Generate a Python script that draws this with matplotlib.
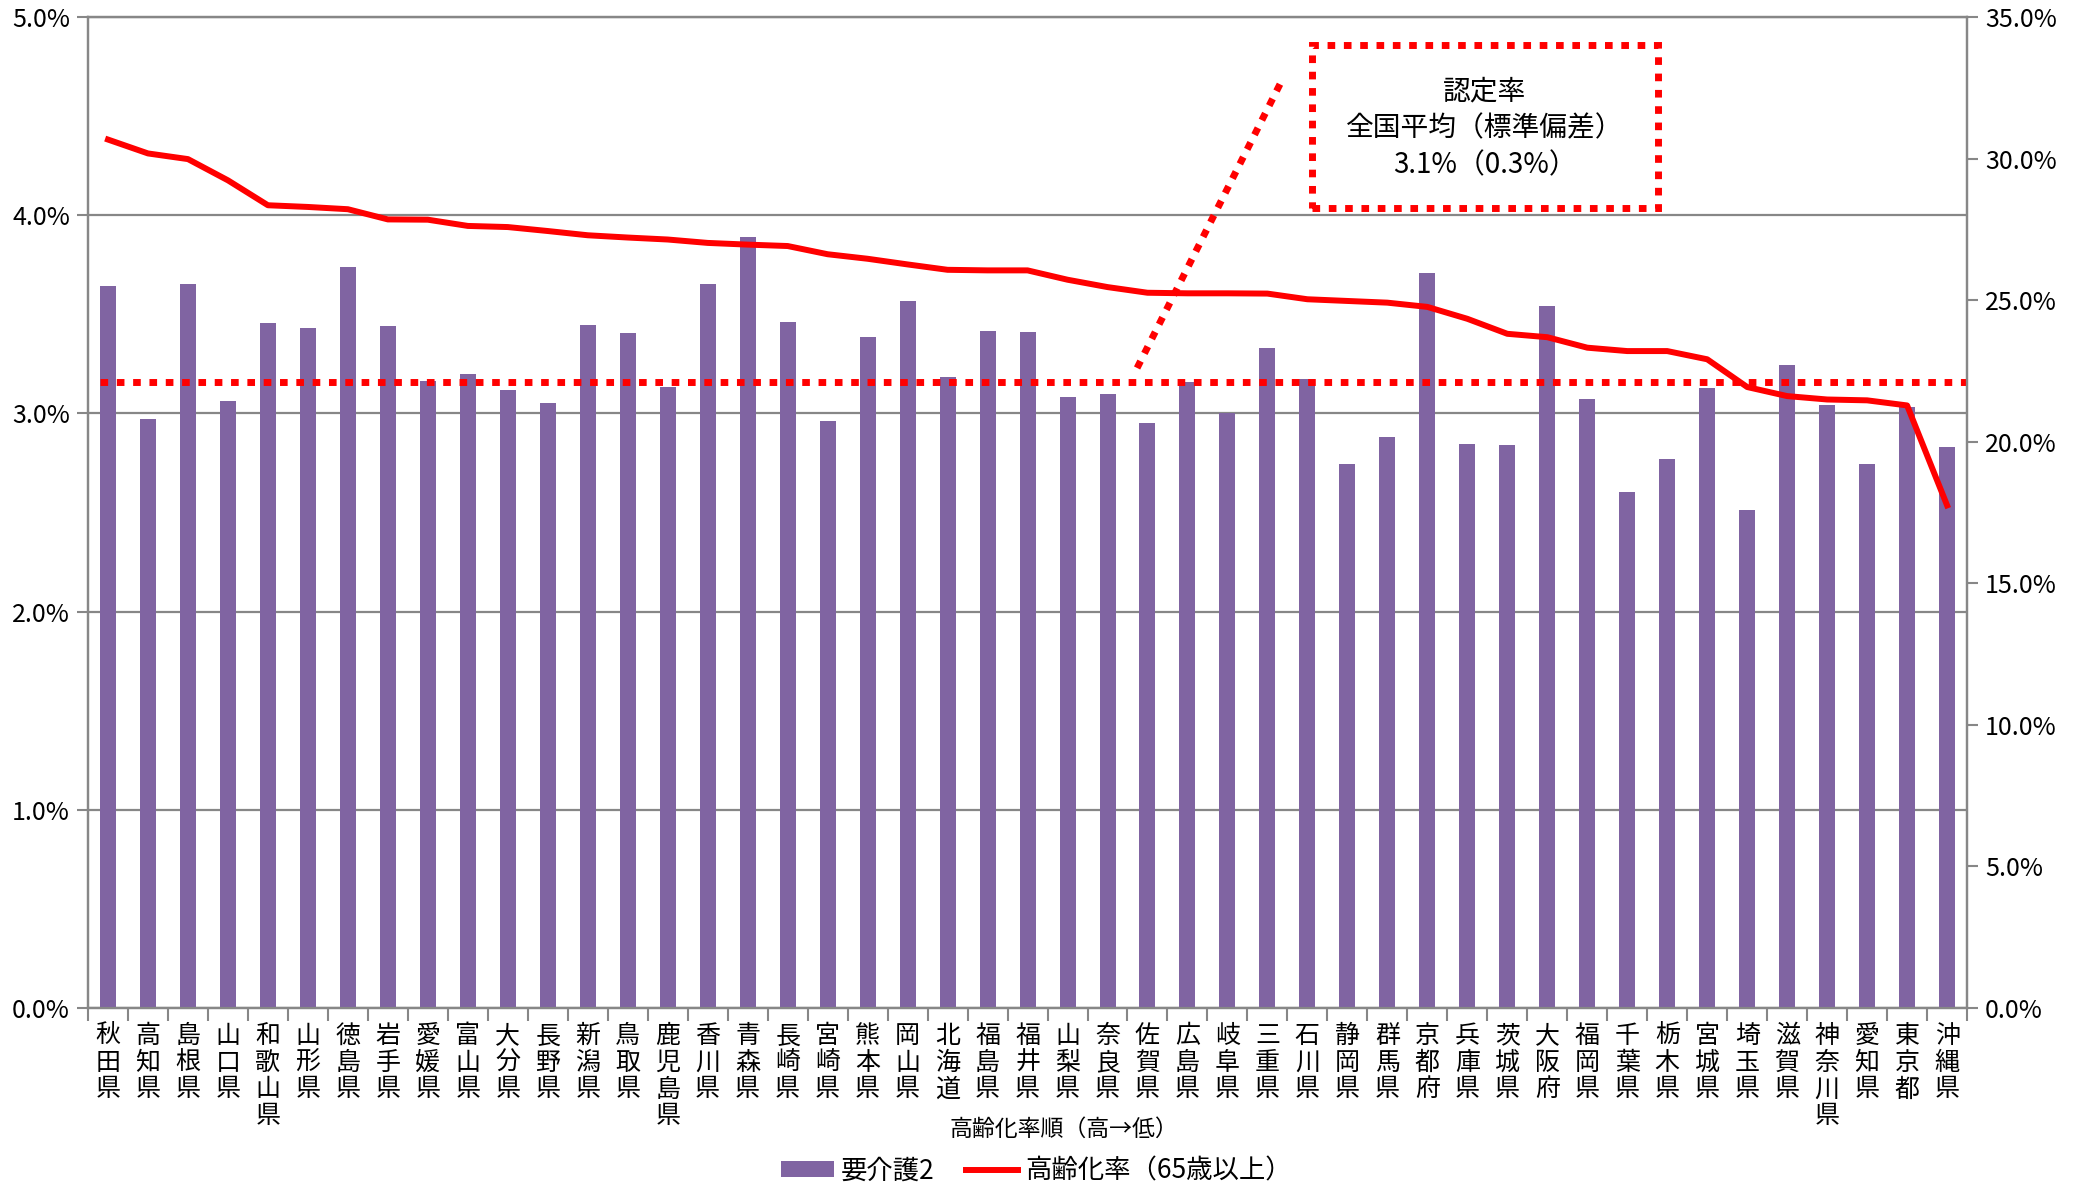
import matplotlib
matplotlib.use('Agg')
import matplotlib.pyplot as plt
from matplotlib.patches import Rectangle, Patch
from matplotlib.lines import Line2D
import numpy as np

plt.rcParams['font.family'] = ['Noto Sans CJK JP', 'DejaVu Sans']

# prefectures sorted by aging rate, high -> low
prefectures = ['秋田県', '高知県', '島根県', '山口県', '和歌山県', '山形県', '徳島県', '岩手県',
               '愛媛県', '富山県', '大分県', '長野県', '新潟県', '鳥取県', '鹿児島県', '香川県',
               '青森県', '長崎県', '宮崎県', '熊本県', '岡山県', '北海道', '福島県', '福井県',
               '山梨県', '奈良県', '佐賀県', '広島県', '岐阜県', '三重県', '石川県', '静岡県',
               '群馬県', '京都府', '兵庫県', '茨城県', '大阪府', '福岡県', '千葉県', '栃木県',
               '宮城県', '埼玉県', '滋賀県', '神奈川県', '愛知県', '東京都', '沖縄県']

# 要介護2 certification rate (%)
care_level2 = [3.644, 2.970, 3.652, 3.064, 3.457, 3.431, 3.738, 3.441,
               3.163, 3.199, 3.116, 3.051, 3.444, 3.404, 3.135, 3.654,
               3.888, 3.459, 2.960, 3.385, 3.568, 3.182, 3.414, 3.410,
               3.081, 3.098, 2.953, 3.160, 3.000, 3.331, 3.173, 2.745,
               2.879, 3.710, 2.846, 2.839, 3.543, 3.073, 2.604, 2.772,
               3.127, 2.510, 3.244, 3.041, 2.745, 3.031, 2.832]

# aging rate, 65 and over (%)
aging_rate = [30.67, 30.18, 29.98, 29.23, 28.35, 28.29, 28.21, 27.85,
              27.84, 27.62, 27.58, 27.44, 27.29, 27.21, 27.14, 27.02,
              26.96, 26.91, 26.62, 26.46, 26.26, 26.07, 26.05, 26.05,
              25.72, 25.46, 25.26, 25.24, 25.24, 25.23, 25.03, 24.97,
              24.91, 24.76, 24.34, 23.81, 23.69, 23.32, 23.20, 23.20,
              22.91, 21.93, 21.61, 21.49, 21.46, 21.28, 17.75]

national_avg = 3.16
avg_text = '認定率\n全国平均（標準偏差）\n3.1%（0.3%）'

BAR_COLOR = '#8064A2'
GRID_COLOR = '#878787'
DOTS = (0, (1.1, 1.25))

x = np.arange(len(prefectures))

fig = plt.figure(figsize=(20.83, 11.86), dpi=100)
ax = fig.add_axes([0.04225, 0.1501, 0.9021, 0.8356])

ax.bar(x, care_level2, width=0.4, color=BAR_COLOR, zorder=3)
ax.hlines(national_avg, -0.2, len(x) - 0.5, colors='red', lw=5, linestyles=DOTS, zorder=4)

ax.set_xlim(-0.5, len(x) - 0.5)
ax.set_ylim(0, 5)
ax.set_yticks(np.arange(0, 5.01, 1.0))
ax.yaxis.set_major_formatter(lambda v, p: f'{v:.1f}%')
ax.grid(axis='y', color=GRID_COLOR, lw=1.6, zorder=0)
ax.set_axisbelow(True)

ax.set_xticks(x)
ax.set_xticklabels(['\n'.join(p) for p in prefectures], fontsize=18, linespacing=1.03, va='top')
ax.set_xticks(np.arange(-0.5, len(x), 1.0), minor=True)
ax.tick_params(axis='x', which='major', length=0, pad=11)
ax.tick_params(axis='x', which='minor', length=9, width=1.5, color=GRID_COLOR, direction='out')
ax.tick_params(axis='y', length=8, width=1.5, color=GRID_COLOR, labelsize=18, pad=5)

for s in ax.spines.values():
    s.set_color(GRID_COLOR)
    s.set_linewidth(1.6)

ax2 = ax.twinx()
ax2.plot(x, aging_rate, color='red', lw=4.3, solid_joinstyle='round', zorder=5)
ax2.set_ylim(0, 35)
ax2.set_yticks(np.arange(0, 35.01, 5.0))
ax2.yaxis.set_major_formatter(lambda v, p: f'{v:.1f}%')
ax2.tick_params(axis='y', length=8, width=1.5, color=GRID_COLOR, labelsize=18, pad=5)
for s in ax2.spines.values():
    s.set_color(GRID_COLOR)
    s.set_linewidth(1.6)

# callout box for the national average
bx, by, bw, bh = 0.6514, 0.8073, 0.1841, 0.1644
box = Rectangle((bx, by), bw, bh, transform=ax2.transAxes, fill=False,
                edgecolor='red', lw=5, linestyle=DOTS, zorder=6)
ax2.add_patch(box)
ax2.text(bx + bw / 2, by + bh / 2 - 0.002, avg_text, transform=ax2.transAxes,
         ha='center', va='center', fontsize=20, linespacing=1.32, zorder=7)
ax2.plot([0.5583, 0.636], [0.6458, 0.9384], transform=ax2.transAxes, color='red',
         lw=5, linestyle=DOTS, zorder=6)

fig.text(0.5108, 0.048, '高齢化率順（高→低）', ha='center', va='center', fontsize=16.5)

handles = [Patch(facecolor=BAR_COLOR, edgecolor='none'),
           Line2D([0], [0], color='red', lw=4.3)]
fig.legend(handles, ['要介護2', '高齢化率（65歳以上）'], loc='center',
           bbox_to_anchor=(0.4975, 0.0125), ncol=2, frameon=False, fontsize=19,
           handlelength=2.0, handleheight=0.55, columnspacing=1.2, handletextpad=0.25)

fig.savefig('out.png', dpi=100)
